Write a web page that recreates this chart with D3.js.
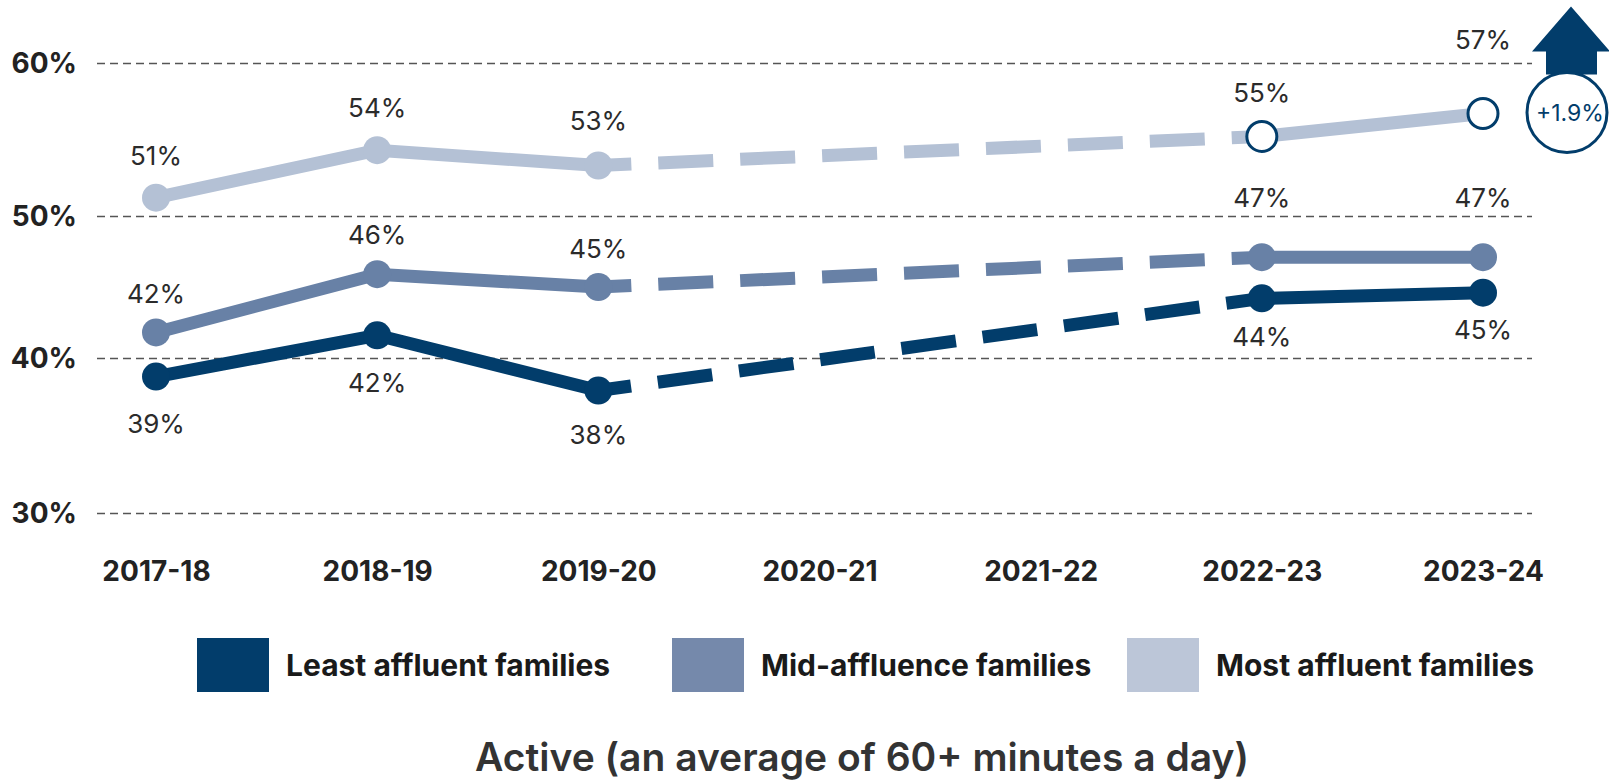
<!DOCTYPE html>
<html>
<head>
<meta charset="utf-8">
<script src="https://cdn.jsdelivr.net/npm/d3@7"></script>
<style>
  body { margin: 0; background: #fff; }
  svg { display: block; }
</style>
</head>
<body>
<div id="root"></div>
<script>
// data (null = no survey that year)
var years = ["2017-18", "2018-19", "2019-20", "2020-21", "2021-22", "2022-23", "2023-24"];
var leastAffluent = [38.8, 41.6, 37.9, null, null, 44.2, 44.6];
var midAffluence  = [41.8, 45.9, 45.0, null, null, 47.1, 47.1];
var mostAffluent  = [51.2, 54.3, 53.3, null, null, 55.2, 56.7];
var seriesNames = ["Least affluent families", "Mid-affluence families", "Most affluent families"];
var yTicks = [30, 40, 50, 60];
var hollowYears = ["2022-23", "2023-24"];
var change = "+1.9%";
var title = "Active (an average of 60+ minutes a day)";

var navy = "#023d6b";
var lineColors = [navy, "#6881a6", "#b4c1d5"];
var legendColors = [navy, "#7589ab", "#bcc6d8"];
// label offset from point (baseline), per series
var labelDy = [
    [56, 57, 53, 0, 0, 48, 46],
    [-29, -30, -29, 0, 0, -50, -50],
    [-33, -33, -36, 0, 0, -34, -64]
];
var legendX = [197, 672, 1127];

var width = 1609, height = 782;

var svg = d3.select("#root").append("svg")
    .attr("width", width)
    .attr("height", height);

svg.append("rect").attr("width", width).attr("height", height).attr("fill", "#fff");

var x = d3.scalePoint().domain(years).range([156, 1483]);
// gridlines in the original are not evenly spaced
var y = d3.scaleLinear().domain([30, 40, 50, 60]).range([513, 358, 216, 63]);

var gridLeft = 97, gridRight = 1532;

var yAxis = svg.append("g")
    .attr("transform", "translate(" + gridLeft + ",0)")
    .call(d3.axisLeft(y)
          .tickValues(yTicks)
          .tickSize(-(gridRight - gridLeft))
          .tickPadding(20)
          .tickFormat(function(d) { return d + "%"; }));
yAxis.select(".domain").remove();
yAxis.selectAll("line")
    .attr("stroke", "#555")
    .attr("stroke-width", 1.5)
    .attr("stroke-dasharray", "8,5");
yAxis.selectAll("text")
    .attr("font-family", "Inter, 'Open Sans', sans-serif")
    .attr("font-weight", 700)
    .attr("font-size", 28)
    .attr("fill", "#222")
    .attr("dy", "0.35em");

var xAxis = svg.append("g")
    .attr("transform", "translate(0,561)")
    .call(d3.axisBottom(x).tickSize(0).tickPadding(0));
xAxis.select(".domain").remove();
xAxis.selectAll("text")
    .attr("font-family", "Inter, 'Open Sans', sans-serif")
    .attr("font-weight", 700)
    .attr("font-size", 28)
    .attr("fill", "#222");

var series = [leastAffluent, midAffluence, mostAffluent].map(function(vals, si) {
    return {
        name: seriesNames[si],
        color: lineColors[si],
        points: vals.map(function(v, i) { return {year: years[i], value: v, dy: labelDy[si][i]}; })
    };
});

var line = d3.line()
    .defined(function(d) { return d.value != null; })
    .x(function(d) { return x(d.year); })
    .y(function(d) { return y(d.value); });

// bridge over the missing years
function gaps(points) {
    var out = [], prev = null;
    points.forEach(function(p, i) {
        if (p.value == null) return;
        if (prev != null && i - prev > 1) out.push([points[prev], p]);
        prev = i;
    });
    return out;
}

var lines = svg.append("g").attr("class", "lines");
series.forEach(function(s) {
    lines.append("path")
        .attr("d", line(s.points))
        .attr("fill", "none")
        .attr("stroke", s.color)
        .attr("stroke-width", 13);
    gaps(s.points).forEach(function(g) {
        lines.append("path")
            .attr("d", line(g))
            .attr("fill", "none")
            .attr("stroke", s.color)
            .attr("stroke-width", 13)
            .attr("stroke-dasharray", "55,27")
            .attr("stroke-dashoffset", 22);
    });
});

series.forEach(function(s, si) {
    var hollow = si == 2;
    var pts = s.points.filter(function(d) { return d.value != null; });
    svg.append("g").selectAll("circle")
        .data(pts)
        .enter()
        .append("circle")
        .attr("cx", function(d) { return x(d.year); })
        .attr("cy", function(d) { return y(d.value); })
        .each(function(d) {
            var c = d3.select(this);
            if (hollow && hollowYears.indexOf(d.year) >= 0) {
                c.attr("r", 15).attr("fill", "#fff").attr("stroke", navy).attr("stroke-width", 3);
            } else {
                c.attr("r", 14).attr("fill", s.color);
            }
        });
    svg.append("g").selectAll("text")
        .data(pts)
        .enter()
        .append("text")
        .attr("x", function(d) { return x(d.year); })
        .attr("y", function(d) { return y(d.value) + d.dy; })
        .attr("text-anchor", "middle")
        .attr("font-family", "Inter, 'Liberation Sans', sans-serif")
        .attr("font-weight", 400)
        .attr("font-size", 26)
        .attr("fill", "#2b2b2b")
        .text(function(d) { return Math.round(d.value) + "%"; });
});

// change badge next to the last point of the top series
var lastYear = years[years.length - 1];
var cx = x(lastYear) + 84, cy = y(mostAffluent[mostAffluent.length - 1]) - 1;
var badge = svg.append("g");
badge.append("path")
    .attr("d", d3.line()([
        [cx + 4, cy - 106], [cx + 43, cy - 61], [cx + 30, cy - 61], [cx + 30, cy - 38],
        [cx - 21, cy - 38], [cx - 21, cy - 61], [cx - 35, cy - 61]
    ]) + "Z")
    .attr("fill", navy);
badge.append("circle")
    .attr("cx", cx).attr("cy", cy).attr("r", 40)
    .attr("fill", "#fff").attr("stroke", navy).attr("stroke-width", 3);
badge.append("text")
    .attr("x", cx + 3).attr("y", cy)
    .attr("dy", "0.35em")
    .attr("text-anchor", "middle")
    .attr("font-family", "Inter, sans-serif")
    .attr("font-size", 23)
    .attr("fill", navy)
    .text(change);

var legend = svg.append("g").selectAll("g")
    .data(seriesNames)
    .enter()
    .append("g")
    .attr("transform", function(d, i) { return "translate(" + legendX[i] + ",638)"; });
legend.append("rect")
    .attr("width", 72).attr("height", 54)
    .attr("fill", function(d, i) { return legendColors[i]; });
legend.append("text")
    .attr("x", 89).attr("y", 27).attr("dy", "0.35em")
    .attr("font-family", "Inter, 'Open Sans', sans-serif")
    .attr("font-weight", 700)
    .attr("font-size", 30)
    .attr("fill", "#1a1a1a")
    .text(function(d) { return d; });

svg.append("text")
    .attr("x", 862).attr("y", 771)
    .attr("text-anchor", "middle")
    .attr("font-family", "Inter, 'Open Sans', sans-serif")
    .attr("font-weight", 600)
    .attr("font-size", 39)
    .attr("fill", "#333")
    .text(title);
</script>
</body>
</html>
